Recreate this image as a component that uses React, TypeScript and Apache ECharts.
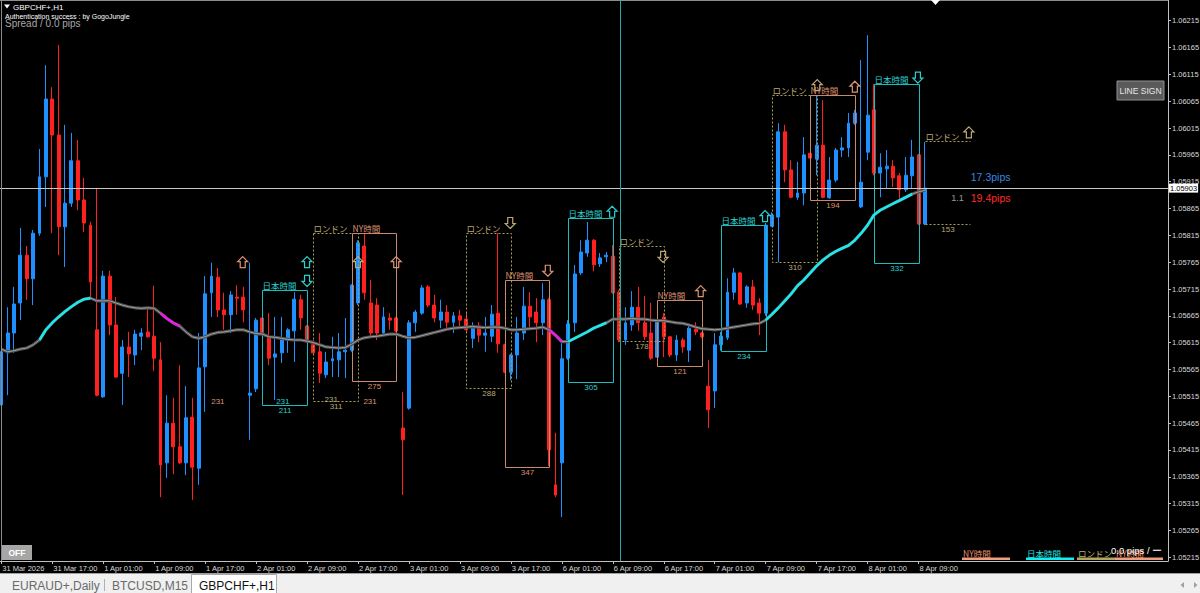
import React, { useEffect, useRef } from "react";
import * as echarts from "echarts";

// ---------- data ----------
const timeTickIdx = [0, 8, 16, 24, 32, 40, 48, 56, 64, 72, 80, 88, 96, 104, 112, 120, 128, 136, 144];
const timeLabels = ["31 Mar 2026", "31 Mar 17:00", "1 Apr 01:00", "1 Apr 09:00", "1 Apr 17:00", "2 Apr 01:00", "2 Apr 09:00", "2 Apr 17:00", "3 Apr 01:00", "3 Apr 09:00", "3 Apr 17:00", "6 Apr 01:00", "6 Apr 09:00", "6 Apr 17:00", "7 Apr 01:00", "7 Apr 09:00", "7 Apr 17:00", "8 Apr 01:00", "8 Apr 09:00"];
const priceTicks = [1.05215, 1.05265, 1.05315, 1.05365, 1.05415, 1.05465, 1.05515, 1.05565, 1.05615, 1.05665, 1.05715, 1.05765, 1.05815, 1.05865, 1.05915, 1.05965, 1.06015, 1.06065, 1.06115, 1.06165, 1.06215];

const openP = [
  1.05499, 1.05596, 1.05633, 1.05689, 1.05778, 1.05734, 1.05819, 1.05924, 1.06069, 1.06002,
  1.05831, 1.05875, 1.05954, 1.05881, 1.05834, 1.05639, 1.05514, 1.05739, 1.05648, 1.05558,
  1.05607, 1.05592, 1.05627, 1.05635, 1.05627, 1.05583, 1.05391, 1.05465, 1.05421, 1.05391,
  1.05476, 1.05381, 1.05570, 1.05708, 1.05737, 1.05676, 1.05667, 1.05700, 1.05700, 1.05517,
  1.05529, 1.05661, 1.05626, 1.05588, 1.05596, 1.05620, 1.05637, 1.05695, 1.05646, 1.05611,
  1.05598, 1.05555, 1.05581, 1.05583, 1.05598, 1.05601, 1.05689, 1.05795, 1.05689, 1.05685,
  1.05633, 1.05661, 1.05661, 1.05456, 1.05493, 1.05652, 1.05670, 1.05719, 1.05685, 1.05657,
  1.05672, 1.05653, 1.05665, 1.05659, 1.05623, 1.05646, 1.05629, 1.05627, 1.05670, 1.05611,
  1.05560, 1.05592, 1.05633, 1.05683, 1.05672, 1.05652, 1.05695, 1.05350, 1.05391, 1.05586,
  1.05652, 1.05745, 1.05782, 1.05806, 1.05762, 1.05775, 1.05776, 1.05709, 1.05620, 1.05648,
  1.05681, 1.05652, 1.05633, 1.05588, 1.05663, 1.05626, 1.05592, 1.05620, 1.05601, 1.05640,
  1.05633, 1.05534, 1.05525, 1.05611, 1.05624, 1.05709, 1.05745, 1.05689, 1.05719, 1.05689,
  1.05670, 1.05832, 1.05849, 1.06008, 1.05937, 1.05886, 1.05894, 1.05968, 1.05957, 1.05983,
  1.05885, 1.05918, 1.05974, 1.05978, 1.06024, 1.05868, 1.05970, 1.06049, 1.05931, 1.05939,
  1.05944, 1.05926, 1.05900, 1.05926, 1.05965, 1.05836,
];
const closeP = [
  1.05598, 1.05633, 1.05687, 1.05778, 1.05734, 1.05819, 1.05924, 1.06069, 1.06002, 1.05831,
  1.05875, 1.05954, 1.05881, 1.05838, 1.05728, 1.05517, 1.05739, 1.05648, 1.05551, 1.05607,
  1.05594, 1.05631, 1.05633, 1.05626, 1.05586, 1.05387, 1.05465, 1.05421, 1.05391, 1.05475,
  1.05383, 1.05568, 1.05706, 1.05739, 1.05676, 1.05667, 1.05704, 1.05698, 1.05676, 1.05521,
  1.05657, 1.05633, 1.05586, 1.05594, 1.05620, 1.05639, 1.05696, 1.05661, 1.05616, 1.05596,
  1.05558, 1.05579, 1.05585, 1.05598, 1.05601, 1.05722, 1.05801, 1.05708, 1.05633, 1.05633,
  1.05663, 1.05657, 1.05637, 1.05434, 1.05652, 1.05672, 1.05717, 1.05685, 1.05661, 1.05672,
  1.05653, 1.05665, 1.05657, 1.05639, 1.05642, 1.05629, 1.05633, 1.05668, 1.05613, 1.05560,
  1.05592, 1.05633, 1.05683, 1.05663, 1.05652, 1.05695, 1.05415, 1.05331, 1.05585, 1.05650,
  1.05743, 1.05784, 1.05806, 1.05760, 1.05773, 1.05778, 1.05708, 1.05620, 1.05652, 1.05681,
  1.05652, 1.05626, 1.05586, 1.05655, 1.05626, 1.05592, 1.05620, 1.05607, 1.05642, 1.05635,
  1.05626, 1.05490, 1.05611, 1.05627, 1.05709, 1.05745, 1.05687, 1.05719, 1.05685, 1.05670,
  1.05834, 1.05853, 1.06008, 1.05937, 1.05886, 1.05894, 1.05965, 1.05959, 1.05983, 1.05886,
  1.05918, 1.05974, 1.05978, 1.06024, 1.06043, 1.05914, 1.06039, 1.05931, 1.05942, 1.05944,
  1.05922, 1.05900, 1.05927, 1.05961, 1.05836, 1.05903,
];
const lowP = [
  1.05471, 1.05517, 1.05596, 1.05657, 1.05695, 1.05685, 1.05814, 1.05868, 1.05819, 1.05778,
  1.05756, 1.05868, 1.05862, 1.05821, 1.05698, 1.05515, 1.05512, 1.05629, 1.05549, 1.05499,
  1.05551, 1.05573, 1.05601, 1.05624, 1.05562, 1.05327, 1.05363, 1.05370, 1.05389, 1.05368,
  1.05322, 1.05350, 1.05486, 1.05663, 1.05663, 1.05639, 1.05633, 1.05667, 1.05653, 1.05434,
  1.05523, 1.05631, 1.05573, 1.05508, 1.05577, 1.05596, 1.05579, 1.05639, 1.05614, 1.05594,
  1.05540, 1.05549, 1.05551, 1.05551, 1.05549, 1.05598, 1.05685, 1.05695, 1.05626, 1.05620,
  1.05631, 1.05639, 1.05635, 1.05331, 1.05490, 1.05635, 1.05667, 1.05681, 1.05653, 1.05642,
  1.05639, 1.05633, 1.05646, 1.05633, 1.05605, 1.05616, 1.05598, 1.05616, 1.05596, 1.05558,
  1.05545, 1.05547, 1.05620, 1.05639, 1.05616, 1.05629, 1.05385, 1.05327, 1.05290, 1.05583,
  1.05635, 1.05741, 1.05775, 1.05748, 1.05756, 1.05765, 1.05706, 1.05616, 1.05611, 1.05637,
  1.05637, 1.05620, 1.05583, 1.05585, 1.05588, 1.05588, 1.05581, 1.05596, 1.05579, 1.05629,
  1.05624, 1.05456, 1.05493, 1.05600, 1.05620, 1.05695, 1.05685, 1.05680, 1.05676, 1.05629,
  1.05665, 1.05831, 1.05765, 1.05914, 1.05884, 1.05881, 1.05871, 1.05955, 1.05927, 1.05884,
  1.05883, 1.05914, 1.05961, 1.05961, 1.06021, 1.05866, 1.05955, 1.05927, 1.05886, 1.05903,
  1.05905, 1.05877, 1.05896, 1.05903, 1.05834, 1.05834,
];
const highP = [
  1.05601, 1.05681, 1.05719, 1.05829, 1.05795, 1.05825, 1.05976, 1.06132, 1.06091, 1.06170,
  1.06021, 1.06006, 1.05993, 1.05922, 1.05840, 1.05903, 1.05749, 1.05749, 1.05700, 1.05620,
  1.05635, 1.05639, 1.05642, 1.05678, 1.05721, 1.05616, 1.05517, 1.05512, 1.05573, 1.05534,
  1.05512, 1.05633, 1.05739, 1.05764, 1.05754, 1.05708, 1.05711, 1.05722, 1.05719, 1.05764,
  1.05661, 1.05665, 1.05670, 1.05663, 1.05663, 1.05642, 1.05709, 1.05704, 1.05648, 1.05620,
  1.05633, 1.05598, 1.05626, 1.05633, 1.05661, 1.05724, 1.05806, 1.05819, 1.05732, 1.05698,
  1.05681, 1.05670, 1.05663, 1.05523, 1.05657, 1.05676, 1.05722, 1.05722, 1.05704, 1.05695,
  1.05685, 1.05672, 1.05676, 1.05672, 1.05653, 1.05653, 1.05663, 1.05685, 1.05819, 1.05613,
  1.05594, 1.05663, 1.05719, 1.05709, 1.05698, 1.05726, 1.05698, 1.05447, 1.05614, 1.05657,
  1.05760, 1.05806, 1.05840, 1.05808, 1.05782, 1.05784, 1.05797, 1.05713, 1.05681, 1.05711,
  1.05719, 1.05702, 1.05689, 1.05657, 1.05670, 1.05627, 1.05629, 1.05624, 1.05646, 1.05653,
  1.05635, 1.05583, 1.05633, 1.05635, 1.05735, 1.05754, 1.05747, 1.05722, 1.05732, 1.05698,
  1.05838, 1.05858, 1.06024, 1.06021, 1.05955, 1.05952, 1.05998, 1.05970, 1.06075, 1.06067,
  1.05961, 1.05978, 1.05998, 1.06043, 1.06049, 1.06142, 1.06188, 1.06097, 1.05968, 1.05974,
  1.05955, 1.05931, 1.05961, 1.05993, 1.05967, 1.05989,
];

const maValues = [
  1.05603, 1.05598, 1.05600, 1.05603, 1.05605, 1.05611, 1.05620, 1.05639, 1.05652, 1.05663,
  1.05673, 1.05682, 1.05690, 1.05696, 1.05698, 1.05693, 1.05693, 1.05693, 1.05689, 1.05685,
  1.05682, 1.05680, 1.05679, 1.05680, 1.05679, 1.05670, 1.05660, 1.05652, 1.05646, 1.05635,
  1.05626, 1.05623, 1.05626, 1.05631, 1.05634, 1.05635, 1.05637, 1.05639, 1.05639, 1.05635,
  1.05632, 1.05631, 1.05626, 1.05625, 1.05623, 1.05621, 1.05620, 1.05620, 1.05618, 1.05615,
  1.05611, 1.05607, 1.05606, 1.05605, 1.05606, 1.05612, 1.05620, 1.05624, 1.05626, 1.05627,
  1.05629, 1.05631, 1.05631, 1.05627, 1.05624, 1.05625, 1.05628, 1.05631, 1.05634, 1.05637,
  1.05640, 1.05642, 1.05643, 1.05644, 1.05645, 1.05644, 1.05643, 1.05644, 1.05644, 1.05642,
  1.05639, 1.05639, 1.05640, 1.05641, 1.05642, 1.05644, 1.05639, 1.05629, 1.05617, 1.05617,
  1.05623, 1.05629, 1.05635, 1.05642, 1.05647, 1.05652, 1.05659, 1.05659, 1.05659, 1.05660,
  1.05659, 1.05659, 1.05657, 1.05656, 1.05656, 1.05654, 1.05652, 1.05651, 1.05648, 1.05644,
  1.05641, 1.05640, 1.05639, 1.05640, 1.05642, 1.05644, 1.05646, 1.05648, 1.05650, 1.05651,
  1.05657, 1.05668, 1.05680, 1.05693, 1.05706, 1.05721, 1.05732, 1.05745, 1.05758, 1.05769,
  1.05778, 1.05785, 1.05791, 1.05796, 1.05806, 1.05819, 1.05834, 1.05853, 1.05862, 1.05868,
  1.05874, 1.05880, 1.05886, 1.05892, 1.05896, 1.05899,
];
const maUpRuns = [[6, 14], [89, 95], [120, 143]];
const maDownRuns = [[25, 28], [86, 88]];

const boxSession = ["jp", "ldn", "ny", "ldn", "ny", "jp", "ldn", "ny", "jp", "ldn", "ny", "jp", "ldn"];
const boxStart = [41, 49, 55, 73, 79, 89, 97, 103, 113, 121, 127, 137, 145];
const boxEnd = [48, 56, 62, 80, 86, 96, 104, 110, 120, 128, 134, 144, 152];
const boxHigh = [1.05713, 1.05819, 1.05819, 1.05819, 1.05732, 1.05847, 1.05796, 1.05695, 1.05834, 1.06077, 1.06077, 1.06097, 1.0599];
const boxLow = [1.05499, 1.05507, 1.05544, 1.0553, 1.05384, 1.05542, 1.05618, 1.05572, 1.056, 1.05766, 1.05881, 1.05764, 1.05836];
const boxRange = ["211", "311", "275", "288", "347", "305", "178", "121", "234", "310", "194", "332", "153"];
const boxOpen = [false, false, false, false, false, false, false, false, false, false, false, false, true];

const arrowIdx = [37.9, 48.0, 48.0, 56.0, 62.0, 79.9, 85.8, 95.9, 103.9, 109.8, 119.9, 128.1, 134.0, 143.9, 151.9];
const arrowPrice = [1.05765, 1.05765, 1.0573, 1.05765, 1.05765, 1.05838, 1.05749, 1.05859, 1.05775, 1.05711, 1.05851, 1.06095, 1.06092, 1.06109, 1.06007];
const arrowDir = ["up", "up", "down", "up", "up", "down", "down", "up", "down", "up", "up", "up", "up", "down", "up"];
const arrowSession = ["ny", "jp", "jp", "ldn", "ny", "ldn", "ny", "jp", "ldn", "ny", "jp", "ldn", "ny", "jp", "ldn"];

const noteText = ["231", "231", "231", "231", "17.3pips", "1.1", "19.4pips"];
const noteIdx = [34.0, 44.2, 51.8, 57.9, 152.2, 150.1, 152.2];
const notePrice = [1.05506, 1.05506, 1.05509, 1.05505, 1.05924, 1.05885, 1.05885];

const currentPrice = 1.05903;
const cursorIdx = 97.1;

// ---------- styles ----------
const X_MIN = -0.2, X_MAX = 183.16;
const Y_MIN = 1.052081, Y_MAX = 1.062536;
const sessionName: Record<string, string> = { jp: "日本時間", ldn: "ロンドン", ny: "NY時間" };
const sessionLine: Record<string, string> = { jp: "#1cbcbc", ldn: "#a8a055", ny: "#c98a6c" };
const sessionText: Record<string, string> = { jp: "#2ad0d0", ldn: "#bca874", ny: "#dc9370" };
const noteStyle = [
  { c: sessionText.ny, s: 8, a: "center" },
  { c: sessionText.jp, s: 8, a: "center" },
  { c: sessionText.ldn, s: 8, a: "center" },
  { c: sessionText.ny, s: 8, a: "center" },
  { c: "#3a86e0", s: 10.5, a: "left" },
  { c: "#9a9a9a", s: 9, a: "center" },
  { c: "#ff2a2a", s: 10.5, a: "left" },
];
const CJK = '"Noto Sans CJK JP"';
const LAT = '"Liberation Sans"';

function inRuns(i: number, runs: number[][]) {
  return runs.some(([a, b]) => i >= a && i <= b);
}

export default function App() {
  const ref = useRef<HTMLDivElement>(null);
  useEffect(() => {
    if (!ref.current) return;
    const chart = echarts.init(ref.current, null, { renderer: "svg" });
    const candleData = openP.map((o, i) => [i, o, closeP[i], lowP[i], highP[i]]);
    const maAll = maValues.map((v, i) => [i, v]);
    const maUp = maValues.map((v, i) => [i, inRuns(i, maUpRuns) ? v : "-"]);
    const maDown = maValues.map((v, i) => [i, inRuns(i, maDownRuns) ? v : "-"]);
    const boxData = boxStart.map((s, i) => [s, boxHigh[i], boxEnd[i], boxLow[i]]);
    const arrowData = arrowIdx.map((x, i) => [x, arrowPrice[i]]);
    const noteData = noteIdx.map((x, i) => [x, notePrice[i]]);

    const legendItems = [
      { t: "NY時間", x: 962, w: 48, c: "#e8906a", b: "#f0a080" },
      { t: "日本時間", x: 1026, w: 48, c: "#20e0e0", b: "#10f0f0" },
      { t: "ロンドン", x: 1077, w: 38, c: "#b8b070", b: "#b0a860" },
      { t: "NY時間", x: 1115, w: 48, c: "#e8906a", b: "#f0a080" },
    ];
    const graphics: any[] = [
      { type: "line", shape: { x1: 1.5, y1: 0, x2: 1.5, y2: 561 }, style: { stroke: "#8c8c8c", lineWidth: 1 } },
      { type: "line", shape: { x1: 0, y1: 0.5, x2: 1168, y2: 0.5 }, style: { stroke: "#8c8c8c", lineWidth: 1 } },
      { type: "polygon", shape: { points: [[931, 0], [940, 0], [935.5, 5]] }, style: { fill: "#ffffff" } },
      { type: "polygon", shape: { points: [[4, 4.5], [10, 4.5], [7, 8.5]] }, style: { fill: "#ffffff" } },
      { type: "text", x: 13, y: 7, style: { text: "GBPCHF+,H1", fill: "#ffffff", font: `8px ${LAT}`, verticalAlign: "middle" } },
      { type: "text", x: 5, y: 16.5, style: { text: "Authentication success : by GogoJungle", fill: "#ffffff", font: `7px ${LAT}`, verticalAlign: "middle" } },
      { type: "text", x: 5, y: 23.5, style: { text: "Spread / 0.0 pips", fill: "#a8a8a8", font: `10px ${LAT}`, verticalAlign: "middle" } },
      { type: "rect", shape: { x: 1117, y: 81, width: 47, height: 19 }, style: { fill: "#5a5a5a", stroke: "#909090", lineWidth: 1 } },
      { type: "text", x: 1140.5, y: 90.5, style: { text: "LINE SIGN", fill: "#e6e6e6", font: `8.5px ${LAT}`, align: "center", verticalAlign: "middle" } },
      { type: "rect", shape: { x: 2, y: 545, width: 30, height: 15 }, style: { fill: "#a6a6a6" } },
      { type: "text", x: 17, y: 552.5, style: { text: "OFF", fill: "#ffffff", font: `bold 8.5px ${LAT}`, align: "center", verticalAlign: "middle" } },
      ...legendItems.flatMap((it) => [
        { type: "rect", shape: { x: it.x, y: 557.5, width: it.w, height: 2.5 }, style: { fill: it.b } },
        { type: "text", x: it.x + 1, y: 552.5, style: { text: it.t, fill: it.c, font: `8.5px ${CJK}`, verticalAlign: "middle" } },
      ]),
      { type: "text", x: 1111, y: 550, style: { text: "0.0 pips / ー", fill: "#ffffff", font: `9.5px ${LAT}`, verticalAlign: "middle" } },
      { type: "rect", shape: { x: 0, y: 574, width: 1200, height: 19 }, style: { fill: "#f0f0f0" } },
      { type: "rect", shape: { x: 0, y: 573, width: 1200, height: 1 }, style: { fill: "#a0a0a0" } },
      { type: "rect", shape: { x: 191.5, y: 574.5, width: 85, height: 19 }, style: { fill: "#ffffff", stroke: "#a8a8a8", lineWidth: 1 } },
      { type: "text", x: 12, y: 586, style: { text: "EURAUD+,Daily", fill: "#6a6a6a", font: `12px ${LAT}`, verticalAlign: "middle" } },
      { type: "line", shape: { x1: 104.5, y1: 579, x2: 104.5, y2: 591 }, style: { stroke: "#b0b0b0", lineWidth: 1 } },
      { type: "text", x: 112, y: 586, style: { text: "BTCUSD,M15", fill: "#6a6a6a", font: `12px ${LAT}`, verticalAlign: "middle" } },
      { type: "text", x: 199, y: 586, style: { text: "GBPCHF+,H1", fill: "#111111", font: `12px ${LAT}`, verticalAlign: "middle" } },
      { type: "polygon", shape: { points: [[1184, 582], [1184, 588], [1180.5, 585]] }, style: { fill: "#a0a0a0" } },
      { type: "polygon", shape: { points: [[1194, 582], [1194, 588], [1197.5, 585]] }, style: { fill: "#a0a0a0" } },
    ].map((g) => ({ ...g, z: 100, silent: true }));

    chart.setOption({
      animation: false,
      backgroundColor: "#000000",
      textStyle: { fontFamily: "Liberation Sans" },
      grid: { left: 0, right: 32, top: 0, bottom: 32, containLabel: false, outerBoundsMode: "none" },
      xAxis: {
        type: "value",
        min: X_MIN,
        max: X_MAX,
        axisLine: { show: true, onZero: false, lineStyle: { color: "#c0c0c0", width: 1 } },
        axisTick: { show: true, length: 3, customValues: timeTickIdx, lineStyle: { color: "#c0c0c0" } },
        axisLabel: {
          show: true,
          customValues: timeTickIdx,
          formatter: (v: number) => timeLabels[timeTickIdx.indexOf(Math.round(v))] ?? "",
          align: "left",
          color: "#d8d8d8",
          fontSize: 7.5,
          margin: 3,
          padding: [0, 0, 0, 1],
        },
        splitLine: { show: false },
      },
      yAxis: {
        type: "value",
        position: "right",
        min: Y_MIN,
        max: Y_MAX,
        axisLine: { show: true, onZero: false, lineStyle: { color: "#c0c0c0", width: 1 } },
        axisTick: { show: true, length: 3, customValues: priceTicks, lineStyle: { color: "#c0c0c0" } },
        axisLabel: {
          show: true,
          customValues: priceTicks,
          formatter: (v: number) => v.toFixed(5),
          color: "#d8d8d8",
          fontSize: 7.5,
          margin: 4,
        },
        splitLine: { show: false },
      },
      graphic: graphics,
      series: [
        {
          type: "candlestick",
          data: candleData,
          encode: { x: 0, y: [1, 2, 3, 4] },
          barWidth: 3.4,
          silent: true,
          z: 2,
          itemStyle: { color: "#1e90ff", color0: "#ff2020", borderColor: "#1e90ff", borderColor0: "#ff2020", borderWidth: 1 },
        },
        {
          type: "custom",
          data: boxData,
          z: 3,
          silent: true,
          renderItem: (params: any, api: any) => {
            const i = params.dataIndex;
            const a = api.coord([api.value(0), api.value(1)]);
            const b = api.coord([api.value(2), api.value(3)]);
            const s = boxSession[i];
            const x1 = Math.round(a[0]) + 0.5, y1 = Math.round(a[1]) + 0.5;
            const x2 = Math.round(b[0]) + 0.5, y2 = Math.round(b[1]) + 0.5;
            const ls: any = { stroke: sessionLine[s], lineWidth: 1, fill: "none", lineDash: s === "ldn" ? [2, 2] : null };
            const children: any[] = [];
            if (boxOpen[i]) {
              children.push({ type: "line", shape: { x1, y1, x2, y2: y1 }, style: ls });
              children.push({ type: "line", shape: { x1, y1: y2, x2, y2 }, style: ls });
            } else {
              children.push({ type: "rect", shape: { x: x1, y: y1, width: x2 - x1, height: y2 - y1 }, style: ls });
            }
            children.push({ type: "text", x: x1, y: y1 - 1, style: { text: sessionName[s], fill: sessionText[s], font: `8.5px ${CJK}`, align: "left", verticalAlign: "bottom" } });
            children.push({ type: "text", x: (x1 + x2) / 2, y: y2 + 1, style: { text: boxRange[i], fill: sessionText[s], font: `8px ${LAT}`, align: "center", verticalAlign: "top" } });
            return { type: "group", children };
          },
        },
        {
          type: "line",
          data: maAll,
          showSymbol: false,
          symbol: "none",
          silent: true,
          z: 4,
          lineStyle: { color: "#4e4e4e", width: 3.2 },
          markLine: {
            silent: true,
            symbol: ["none", "none"],
            animation: false,
            precision: 5,
            data: [
              {
                yAxis: currentPrice,
                lineStyle: { color: "#c8c8c8", width: 1, type: "solid" },
                label: {
                  show: true,
                  position: "end",
                  formatter: currentPrice.toFixed(5),
                  color: "#000000",
                  backgroundColor: "#ffffff",
                  padding: [1, 1, 0, 1],
                  fontSize: 7.5,
                  distance: 1,
                },
              },
              { xAxis: cursorIdx, lineStyle: { color: "#1fa8a8", width: 1, type: "solid" }, label: { show: false } },
            ],
          },
        },
        { type: "line", data: maAll, showSymbol: false, symbol: "none", silent: true, z: 4, lineStyle: { color: "#a0a0a0", width: 1 } },
        { type: "line", data: maUp, showSymbol: false, symbol: "none", silent: true, z: 5, connectNulls: false, lineStyle: { color: "#1ee8ec", width: 2.6 } },
        { type: "line", data: maDown, showSymbol: false, symbol: "none", silent: true, z: 5, connectNulls: false, lineStyle: { color: "#e81ee8", width: 2.6 } },
        {
          type: "custom",
          data: arrowData,
          z: 6,
          silent: true,
          renderItem: (params: any, api: any) => {
            const i = params.dataIndex;
            const c = api.coord([api.value(0), api.value(1)]);
            const d = arrowDir[i] === "up" ? 1 : -1;
            const base = [[0, -5.5], [5, -0.5], [2.5, -0.5], [2.5, 5.5], [-2.5, 5.5], [-2.5, -0.5], [-5, -0.5]];
            const pts = base.map(([px, py]) => [c[0] + px, c[1] + py * d]);
            return { type: "polygon", shape: { points: pts }, style: { fill: "none", stroke: sessionText[arrowSession[i]], lineWidth: 1.2 } };
          },
        },
        {
          type: "custom",
          data: noteData,
          z: 6,
          silent: true,
          renderItem: (params: any, api: any) => {
            const i = params.dataIndex;
            const c = api.coord([api.value(0), api.value(1)]);
            const st = noteStyle[i];
            return { type: "text", x: c[0], y: c[1], style: { text: noteText[i], fill: st.c, font: `${st.s}px ${LAT}`, align: st.a, verticalAlign: "middle" } };
          },
        },
      ],
    });
    return () => chart.dispose();
  }, []);
  return <div ref={ref} style={{ position: "fixed", left: 0, top: 0, width: 1200, height: 593, background: "#000" }} />;
}
